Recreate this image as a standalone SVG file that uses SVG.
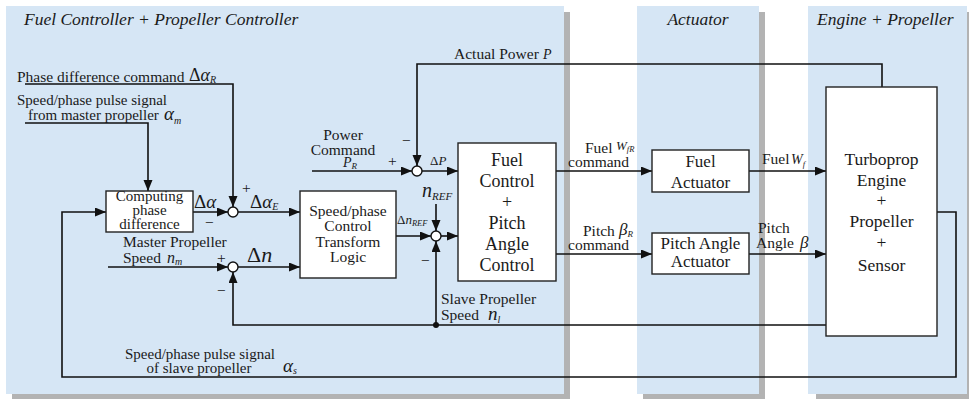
<svg xmlns="http://www.w3.org/2000/svg" width="969" height="399" viewBox="0 0 969 399" font-size="15.5">
<style>
.t{font-family:"Liberation Serif","Times New Roman",serif;fill:#1a1a1a}
.ti{font-style:italic}
.i{font-style:italic}
.c{text-anchor:middle}
.bx{fill:#fff;stroke:#222;stroke-width:1.4}
.pn{fill:#d6e6f5}
.sh{fill:#b3b3b3}
.ar{fill:none;stroke:#111;stroke-width:1.6;marker-end:url(#ah)}
.sj{fill:#fff;stroke:#111;stroke-width:1.4}
</style>
<defs>
<marker id="ah" markerUnits="userSpaceOnUse" markerWidth="12" markerHeight="10" refX="11" refY="4.5" orient="auto">
<path d="M0,0 L11,4.5 L0,9 z" fill="#111"/>
</marker>
</defs>
<rect width="969" height="399" fill="#fff"/>
<g id="panels">
<rect class="sh" x="12" y="12" width="558" height="388"/>
<rect class="pn" x="6" y="6" width="558" height="388"/>
<rect class="sh" x="643" y="12" width="122" height="387"/>
<rect class="pn" x="637" y="6" width="122" height="388"/>
<rect class="sh" x="816" y="12" width="160" height="387"/>
<rect class="pn" x="808" y="6" width="159" height="388"/>
<text class="t ti" x="24" y="25" font-size="17.5">Fuel Controller + Propeller Controller</text>
<text class="t ti c" x="698" y="25" font-size="17.5">Actuator</text>
<text class="t ti" x="817" y="25" font-size="17.5">Engine + Propeller</text>
</g>
<g id="connectors">
<path class="ar" d="M937,212 H956 V377 H62 V212 H106"/>
<path class="ar" d="M826,325 H233 V272"/>
<path class="ar" d="M436,325 V241"/>
<circle cx="436" cy="325" r="3" fill="#111"/>
<path class="ar" d="M882,87 V64 H417 V166"/>
<path class="ar" d="M25,84 H233 V207"/>
<path class="ar" d="M25,123 H148 V191"/>
<path class="ar" d="M312,171 H412"/>
<path class="ar" d="M422,171 H458"/>
<path class="ar" d="M108,267 H228"/>
<path class="ar" d="M238,267 H300"/>
<path class="ar" d="M193,212 H228"/>
<path class="ar" d="M238,212 H300"/>
<path class="ar" d="M436,204 V231"/>
<path class="ar" d="M396,236 H431"/>
<path class="ar" d="M441,236 H458"/>
<path class="ar" d="M556,171 H652"/>
<path class="ar" d="M556,254 H652"/>
<path class="ar" d="M749,171 H826"/>
<path class="ar" d="M749,254 H826"/>
</g>
<g id="labels">
<text class="t" x="17" y="82">Phase difference command</text>
<text class="t" x="189" y="81" font-size="18">Δ<tspan class="i">α</tspan><tspan class="i" font-size="10" dy="2">R</tspan></text>
<text class="t" x="17" y="105" font-size="15">Speed/phase pulse signal</text>
<text class="t" x="28" y="120" font-size="15">from master propeller</text>
<text class="t i" x="164" y="120" font-size="19">α<tspan font-size="10" dy="4">m</tspan></text>
<text class="t" x="194" y="208" font-size="19">Δ<tspan class="i">α</tspan></text>
<text class="t" x="205" y="228">−</text>
<text class="t" x="242" y="193">+</text>
<text class="t" x="250" y="208" font-size="19">Δ<tspan class="i">α</tspan><tspan class="i" font-size="10" dy="2">E</tspan></text>
<text class="t" x="123" y="247">Master Propeller</text>
<text class="t" x="123" y="263">Speed</text>
<text class="t i" x="167" y="263" font-size="16">n<tspan font-size="10" dy="2">m</tspan></text>
<text class="t" x="217" y="263">+</text>
<text class="t" x="247" y="262" font-size="22">Δ<tspan class="i">n</tspan></text>
<text class="t" x="217" y="296">−</text>
<text class="t c" x="200" y="359" font-size="15">Speed/phase pulse signal</text>
<text class="t c" x="199" y="373" font-size="15">of slave propeller</text>
<text class="t i" x="283" y="372" font-size="19">α<tspan font-size="10" dy="2">s</tspan></text>
<text class="t" x="454" y="59">Actual Power</text>
<text class="t i" x="543" y="59" font-size="14">P</text>
<text class="t c" x="343" y="140">Power</text>
<text class="t c" x="343" y="155">Command</text>
<text class="t i" x="343" y="167" font-size="14">P<tspan font-size="9" dy="2">R</tspan></text>
<text class="t" x="388" y="166">+</text>
<text class="t" x="402" y="146">−</text>
<text class="t" x="430" y="165" font-size="13">Δ<tspan class="i">P</tspan></text>
<text class="t i" x="422" y="197" font-size="20">n<tspan font-size="11" dy="3">REF</tspan></text>
<text class="t" x="397" y="224" font-size="13">Δ<tspan class="i">n</tspan><tspan class="i" font-size="8.5" dy="2">REF</tspan></text>
<text class="t" x="421" y="266">−</text>
<text class="t" x="441" y="304">Slave Propeller</text>
<text class="t" x="441" y="320">Speed</text>
<text class="t i" x="488" y="320" font-size="19">n<tspan font-size="10" dy="3">l</tspan></text>
<text class="t" x="585" y="153">Fuel</text>
<text class="t i" x="616" y="150" font-size="13">W<tspan font-size="8.5" dy="2">fR</tspan></text>
<text class="t" x="568" y="167">command</text>
<text class="t" x="583" y="236">Pitch</text>
<text class="t i" x="619" y="235" font-size="17">β<tspan font-size="9" dy="2">R</tspan></text>
<text class="t" x="568" y="250">command</text>
<text class="t" x="762" y="164">Fuel</text>
<text class="t i" x="791" y="164" font-size="14">W<tspan font-size="8.5" dy="3">f</tspan></text>
<text class="t" x="758" y="233">Pitch</text>
<text class="t" x="756" y="248">Angle</text>
<text class="t i" x="800" y="248" font-size="17">β</text>
</g>
<g id="computing">
<rect class="bx" x="106" y="191" width="87" height="41"/>
<text class="t c" x="149.5" y="201" font-size="15">Computing</text>
<text class="t c" x="149.5" y="215" font-size="15">phase</text>
<text class="t c" x="149.5" y="229" font-size="15">difference</text>
</g>
<g id="sum1"><circle class="sj" cx="233" cy="212" r="5"/></g>
<g id="sum2"><circle class="sj" cx="233" cy="267" r="5"/></g>
<g id="sum3"><circle class="sj" cx="417" cy="171" r="5"/></g>
<g id="sum4"><circle class="sj" cx="436" cy="236" r="5"/></g>
<g id="transform">
<rect class="bx" x="300" y="191" width="96" height="87"/>
<text class="t c" x="348" y="216">Speed/phase</text>
<text class="t c" x="348" y="231">Control</text>
<text class="t c" x="348" y="247">Transform</text>
<text class="t c" x="348" y="262">Logic</text>
</g>
<g id="fuelcontrol">
<rect class="bx" x="458" y="143" width="98" height="138"/>
<text class="t c" x="507" y="166" font-size="18">Fuel</text>
<text class="t c" x="507" y="187" font-size="18">Control</text>
<text class="t c" x="507" y="208" font-size="18">+</text>
<text class="t c" x="507" y="229" font-size="18">Pitch</text>
<text class="t c" x="507" y="250" font-size="18">Angle</text>
<text class="t c" x="507" y="271" font-size="18">Control</text>
</g>
<g id="fuelactuator">
<rect class="bx" x="652" y="150" width="97" height="42"/>
<text class="t c" x="700.5" y="167" font-size="17">Fuel</text>
<text class="t c" x="700.5" y="188" font-size="17">Actuator</text>
</g>
<g id="pitchactuator">
<rect class="bx" x="652" y="233" width="97" height="41"/>
<text class="t c" x="700.5" y="249" font-size="17">Pitch Angle</text>
<text class="t c" x="700.5" y="267" font-size="17">Actuator</text>
</g>
<g id="engine">
<rect class="bx" x="826" y="87" width="111" height="249"/>
<text class="t c" x="881.5" y="165" font-size="17.5">Turboprop</text>
<text class="t c" x="881.5" y="186" font-size="17.5">Engine</text>
<text class="t c" x="881.5" y="206" font-size="17.5">+</text>
<text class="t c" x="881.5" y="227" font-size="17.5">Propeller</text>
<text class="t c" x="881.5" y="248" font-size="17.5">+</text>
<text class="t c" x="881.5" y="271" font-size="17.5">Sensor</text>
</g>
</svg>
